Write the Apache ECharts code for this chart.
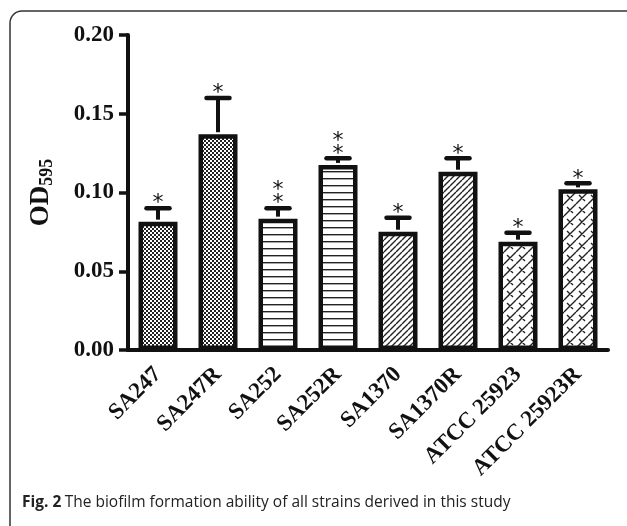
<!DOCTYPE html>
<html><head><meta charset="utf-8">
<script src="https://cdn.jsdelivr.net/npm/echarts@6/dist/echarts.min.js"></script>
<style>html,body{margin:0;padding:0;background:#fff}#c{width:627px;height:526px}</style>
</head><body><div id="c"></div>
<script>
const categories = ['SA247','SA247R','SA252','SA252R','SA1370','SA1370R','ATCC 25923','ATCC 25923R'];
const means = [0.0815, 0.137, 0.0834, 0.1175, 0.0751, 0.1132, 0.0688, 0.102];
const errTop = [0.090, 0.160, 0.090, 0.1217, 0.084, 0.1217, 0.0745, 0.1058];
const stars = ['*','*','*\n*','*\n*','*','*','*','*'];
const patternKind = ['dots','dots','hlines','hlines','diag','diag','brick','brick'];

function makePattern(kind){
  const c = document.createElement('canvas');
  const ctx = c.getContext('2d');
  if(kind==='dots'){
    c.width=4;c.height=4;ctx.fillStyle='#fff';ctx.fillRect(0,0,4,4);
    ctx.fillStyle='#222';ctx.fillRect(0,0,2,2);ctx.fillRect(2,2,2,2);
  } else if(kind==='hlines'){
    c.width=7;c.height=7;ctx.fillStyle='#fff';ctx.fillRect(0,0,7,7);
    ctx.fillStyle='#222';ctx.fillRect(0,3,7,1.4);
  } else if(kind==='diag'){
    c.width=6;c.height=6;ctx.fillStyle='#fff';ctx.fillRect(0,0,6,6);
    ctx.strokeStyle='#222';ctx.lineWidth=1.4;
    ctx.beginPath();
    for(let k=-1;k<=1;k++){ctx.moveTo(k*6,6);ctx.lineTo(k*6+6,0);}
    ctx.stroke();
  } else {
    c.width=12;c.height=12;ctx.fillStyle='#fff';ctx.fillRect(0,0,12,12);
    ctx.strokeStyle='#222';ctx.lineWidth=1.4;
    ctx.beginPath();
    for(let k=-1;k<=1;k++){ctx.moveTo(k*12,12);ctx.lineTo(k*12+12,0);}
    ctx.moveTo(3,3);ctx.lineTo(9,9);
    ctx.moveTo(-3,9);ctx.lineTo(3,15);
    ctx.moveTo(9,-3);ctx.lineTo(15,3);
    ctx.stroke();
  }
  return {image:c, repeat:'repeat'};
}

const chart = echarts.init(document.getElementById('c'), null, {renderer:'canvas'});
const serif = '"Liberation Serif","Times New Roman",serif';
chart.setOption({
  animation:false,
  backgroundColor:'#fff',
  grid:{left:128,right:19,top:35,bottom:176,containLabel:false},
  graphic:[
    {type:'rect',shape:{x:10,y:11,width:640,height:540,r:12},style:{fill:'none',stroke:'#333',lineWidth:1.5},z:0},
    {type:'text',left:22,top:495,style:{text:'{b|Fig. 2} {r|The biofilm formation ability of all strains derived in this study}',
      rich:{b:{fontFamily:'"Open Sans",sans-serif',fontWeight:'bold',fontSize:15.5,fill:'#222'},
            r:{fontFamily:'"Open Sans",sans-serif',fontSize:15.5,fill:'#222'}}}}
  ],
  xAxis:{type:'category',data:categories,
    axisLine:{lineStyle:{color:'#111',width:4}},
    axisTick:{alignWithLabel:true,length:8,lineStyle:{color:'#111',width:3.5}},
    axisLabel:{rotate:45,fontFamily:serif,fontWeight:'bold',fontSize:23,color:'#111',margin:21,interval:0}},
  yAxis:{type:'value',min:0,max:0.2,interval:0.05,
    name:'{a|OD}{s|595}',nameLocation:'middle',nameRotate:90,nameGap:72,
    nameTextStyle:{rich:{a:{fontFamily:serif,fontWeight:'bold',fontSize:27,color:'#111'},
                         s:{fontFamily:serif,fontWeight:'bold',fontSize:18,color:'#111',padding:[12,0,0,0]}}},
    axisLine:{show:true,lineStyle:{color:'#111',width:4}},
    axisTick:{show:true,length:9,lineStyle:{color:'#111',width:3.5}},
    splitLine:{show:false},
    axisLabel:{fontFamily:serif,fontWeight:'bold',fontSize:23,color:'#111',margin:14,
      formatter:v=>v.toFixed(2)}},
  series:[
    {type:'bar',barWidth:39,
     data:means.map((v,i)=>({value:v,itemStyle:{color:makePattern(patternKind[i]),borderColor:'#111',borderWidth:4.5}})),
     z:2},
    {type:'custom',z:3,
     data:categories.map((c,i)=>[i,means[i],errTop[i]]),
     renderItem:function(params,api){
       const i=api.value(0);
       const p0=api.coord([i,api.value(1)]);
       const p1=api.coord([i,api.value(2)]);
       const label=stars[params.dataIndex];
       const capW=11.5;
       return {type:'group',children:[
         {type:'line',shape:{x1:p0[0],y1:p0[1]-2,x2:p1[0],y2:p1[1]},style:{stroke:'#111',lineWidth:4}},
         {type:'line',shape:{x1:p1[0]-capW,y1:p1[1],x2:p1[0]+capW,y2:p1[1]},style:{stroke:'#111',lineWidth:4.5,lineCap:'round'}},
         {type:'text',x:p1[0],y:p1[1]+2,style:{text:label,textAlign:'center',textVerticalAlign:'bottom',
           font:'22px "DejaVu Sans",sans-serif',fill:'#111',lineHeight:13}}
       ]};
     }}
  ]
});
</script></body></html>
